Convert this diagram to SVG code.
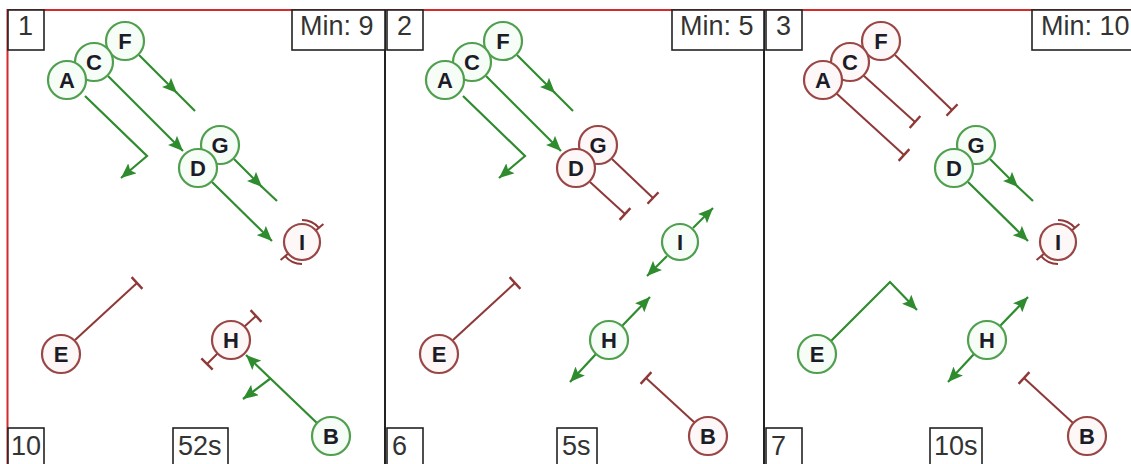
<svg xmlns="http://www.w3.org/2000/svg" width="1131" height="464" viewBox="0 0 1131 464">
<defs>
<style>
.bg{fill:#ffffff}
.frame{fill:none;stroke:#d42a2a;stroke-width:2}
.sep{stroke:#222;stroke-width:2}
.lbl{fill:#fff;stroke:#222;stroke-width:1.6}
.lt{font-family:"Liberation Sans",Arial,sans-serif;font-size:27px;fill:#333}
.ng circle{stroke:#4f9f4f;stroke-width:2.2;fill:#f6fcf6}
.nr circle{stroke:#9a4646;stroke-width:2.2;fill:#fdf7f7}
.nt{font-family:"Liberation Sans",Arial,sans-serif;font-size:22px;font-weight:bold;fill:#1c1c28;text-anchor:middle}
.eg{fill:none;stroke:#2e8b2e;stroke-width:2.2}
.er{fill:none;stroke:#8e3838;stroke-width:2}
.ag{marker-end:url(#arrG)}
.tr{marker-end:url(#tbar)}
</style>
<marker id="arrG" markerUnits="userSpaceOnUse" markerWidth="16" markerHeight="13" refX="15" refY="6.5" orient="auto" viewBox="0 0 16 13">
<path d="M0,0 L15,6.5 L0,13 L3,6.5 z" fill="#2e8b2e"/>
</marker>
<marker id="tbar" markerUnits="userSpaceOnUse" markerWidth="4" markerHeight="16" refX="2" refY="8" orient="auto" viewBox="0 0 4 16">
<path d="M2,0 L2,16" stroke="#8e3838" stroke-width="2.4"/>
</marker>
</defs>
<rect class="bg" x="0" y="0" width="1131" height="464"/>
<rect class="frame" x="7.5" y="10" width="1140" height="470"/>
<line class="sep" x1="385" y1="10" x2="385" y2="464"/>
<line class="sep" x1="764" y1="10" x2="764" y2="464"/>

<!-- Panel 1 -->
<g id="panel1">
<g id="p1-labels">
<rect class="lbl" x="8" y="10" width="36" height="40"/><text class="lt" x="18" y="35">1</text>
<rect class="lbl" x="292" y="10" width="93" height="40"/><text class="lt" x="300" y="35">Min: 9</text>
<rect class="lbl" x="8" y="428" width="36" height="44"/><text class="lt" x="11" y="455">10</text>
<rect class="lbl" x="173" y="428" width="55" height="44"/><text class="lt" x="178" y="455">52s</text>
</g>
<g id="p1-connectors">
<path class="eg ag" d="M85,96 L147,156 L121,178"/>
<path class="eg ag" d="M108,76 L183,151"/>
<path class="eg ag" d="M139,55 L177,93"/>
<path class="eg" d="M176,92 L195,111"/>
<path class="eg ag" d="M234,159 L262,187"/>
<path class="eg" d="M261,186 L277,201"/>
<path class="eg ag" d="M212,182 L272,241"/>
<path class="er tr" d="M75,340 L137,283"/>
<path class="er tr" d="M244,327 L256,316"/>
<path class="er tr" d="M218,353 L207,364"/>
<path class="eg ag" d="M318,424 L246,355"/>
<path class="eg ag" d="M271,378 L243,399"/>
<path class="er" d="M302,220 A22,22 0 0 1 318.9,227.9"/>
<path class="er" d="M314.3,231.7 L323.4,224"/>
<path class="er" d="M302,264 A22,22 0 0 1 285.1,256.1"/>
<path class="er" d="M289.7,252.3 L280.6,260"/>
</g>
<g id="p1-F" class="ng"><circle cx="125" cy="41" r="19"/><text class="nt" x="125" y="49">F</text></g>
<g id="p1-C" class="ng"><circle cx="94" cy="62" r="19"/><text class="nt" x="94" y="70">C</text></g>
<g id="p1-A" class="ng"><circle cx="67" cy="80" r="19"/><text class="nt" x="67" y="88">A</text></g>
<g id="p1-G" class="ng"><circle cx="220" cy="145" r="19"/><text class="nt" x="220" y="153">G</text></g>
<g id="p1-D" class="ng"><circle cx="198" cy="168" r="19"/><text class="nt" x="198" y="176">D</text></g>
<g id="p1-I" class="nr"><circle cx="302" cy="242" r="18"/><text class="nt" x="302" y="250">I</text></g>
<g id="p1-E" class="nr"><circle cx="61" cy="354" r="19"/><text class="nt" x="61" y="362">E</text></g>
<g id="p1-H" class="nr"><circle cx="231" cy="340" r="19"/><text class="nt" x="231" y="348">H</text></g>
<g id="p1-B" class="ng"><circle cx="331" cy="436" r="19"/><text class="nt" x="331" y="444">B</text></g>
</g>

<!-- Panel 2 -->
<g id="panel2" transform="translate(378,0)">
<g id="p2-labels">
<rect class="lbl" x="9" y="10" width="36" height="40"/><text class="lt" x="19" y="35">2</text>
<rect class="lbl" x="294" y="10" width="92" height="40"/><text class="lt" x="302" y="35">Min: 5</text>
<rect class="lbl" x="9" y="428" width="36" height="44"/><text class="lt" x="14" y="455">6</text>
<rect class="lbl" x="179" y="428" width="40" height="44"/><text class="lt" x="184" y="455">5s</text>
</g>
<g id="p2-connectors">
<path class="eg ag" d="M85,96 L147,156 L121,178"/>
<path class="eg ag" d="M108,76 L183,151"/>
<path class="eg ag" d="M139,55 L177,93"/>
<path class="eg" d="M176,92 L195,111"/>
<path class="er tr" d="M212,182 L247,214"/>
<path class="er tr" d="M234,159 L275,198"/>
<path class="eg ag" d="M315,228 L335,208"/>
<path class="eg ag" d="M289,256 L269,276"/>
<path class="eg ag" d="M244,326 L272,297"/>
<path class="eg ag" d="M218,354 L192,382"/>
<path class="er tr" d="M75,340 L137,283"/>
<path class="er tr" d="M317,423 L268,378"/>
</g>
<g id="p2-F" class="ng"><circle cx="125" cy="41" r="19"/><text class="nt" x="125" y="49">F</text></g>
<g id="p2-C" class="ng"><circle cx="94" cy="62" r="19"/><text class="nt" x="94" y="70">C</text></g>
<g id="p2-A" class="ng"><circle cx="67" cy="80" r="19"/><text class="nt" x="67" y="88">A</text></g>
<g id="p2-G" class="nr"><circle cx="220" cy="145" r="19"/><text class="nt" x="220" y="153">G</text></g>
<g id="p2-D" class="nr"><circle cx="198" cy="168" r="19"/><text class="nt" x="198" y="176">D</text></g>
<g id="p2-I" class="ng"><circle cx="302" cy="242" r="18"/><text class="nt" x="302" y="250">I</text></g>
<g id="p2-E" class="nr"><circle cx="61" cy="354" r="19"/><text class="nt" x="61" y="362">E</text></g>
<g id="p2-H" class="ng"><circle cx="231" cy="340" r="19"/><text class="nt" x="231" y="348">H</text></g>
<g id="p2-B" class="nr"><circle cx="330" cy="436" r="19"/><text class="nt" x="330" y="444">B</text></g>
</g>

<!-- Panel 3 -->
<g id="panel3" transform="translate(756,0)">
<g id="p3-labels">
<rect class="lbl" x="10" y="10" width="36" height="40"/><text class="lt" x="20" y="35">3</text>
<rect class="lbl" x="276" y="10" width="110" height="40"/><text class="lt" x="285" y="35">Min: 10</text>
<rect class="lbl" x="10" y="428" width="36" height="44"/><text class="lt" x="15" y="455">7</text>
<rect class="lbl" x="174" y="428" width="52" height="44"/><text class="lt" x="178" y="455">10s</text>
</g>
<g id="p3-connectors">
<path class="er tr" d="M80,93 L148,155"/>
<path class="er tr" d="M107,75 L159,122"/>
<path class="er tr" d="M139,55 L196,110"/>
<path class="eg ag" d="M234,159 L262,187"/>
<path class="eg" d="M261,186 L277,201"/>
<path class="eg ag" d="M212,182 L272,241"/>
<path class="er" d="M302,220 A22,22 0 0 1 318.9,227.9"/>
<path class="er" d="M314.3,231.7 L323.4,224"/>
<path class="er" d="M302,264 A22,22 0 0 1 285.1,256.1"/>
<path class="er" d="M289.7,252.3 L280.6,260"/>
<path class="eg ag" d="M75,341 L134,282 L161,310"/>
<path class="eg ag" d="M244,326 L272,297"/>
<path class="eg ag" d="M218,354 L192,382"/>
<path class="er tr" d="M317,423 L268,378"/>
</g>
<g id="p3-F" class="nr"><circle cx="125" cy="41" r="19"/><text class="nt" x="125" y="49">F</text></g>
<g id="p3-C" class="nr"><circle cx="94" cy="62" r="19"/><text class="nt" x="94" y="70">C</text></g>
<g id="p3-A" class="nr"><circle cx="67" cy="80" r="19"/><text class="nt" x="67" y="88">A</text></g>
<g id="p3-G" class="ng"><circle cx="220" cy="145" r="19"/><text class="nt" x="220" y="153">G</text></g>
<g id="p3-D" class="ng"><circle cx="198" cy="168" r="19"/><text class="nt" x="198" y="176">D</text></g>
<g id="p3-I" class="nr"><circle cx="302" cy="242" r="18"/><text class="nt" x="302" y="250">I</text></g>
<g id="p3-E" class="ng"><circle cx="61" cy="354" r="19"/><text class="nt" x="61" y="362">E</text></g>
<g id="p3-H" class="ng"><circle cx="231" cy="340" r="19"/><text class="nt" x="231" y="348">H</text></g>
<g id="p3-B" class="nr"><circle cx="331" cy="436" r="19"/><text class="nt" x="331" y="444">B</text></g>
</g>
</svg>
